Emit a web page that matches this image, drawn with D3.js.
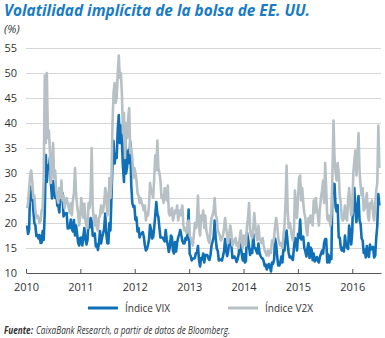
<!DOCTYPE html>
<html>
<head>
<meta charset="utf-8">
<script src="https://cdn.jsdelivr.net/npm/d3@7"></script>
<style>
  html, body { margin: 0; padding: 0; background: #fff; }
  svg { display: block; font-family: "Open Sans", "Noto Sans", sans-serif; }
</style>
</head>
<body>
<svg id="chart" width="385" height="338"></svg>
<script>
// Weekly closes (Fridays), starting the first week of January 2010.
const firstWeek = "2010-01-08";

// Índice VIX (S&P 500 implied volatility), one row per quarter
const vix = [
  19.5, 17.8, 18.6, 27.3, 24.6, 26.1, 22.7, 20.0, 19.5, 17.4, 17.6, 16.9, 17.6,
  16.0, 16.1, 18.4, 16.6, 22.0, 33.6, 28.2, 31.5, 30.8, 33.2, 27.6, 24.9, 28.4,
  26.5, 25.0, 26.3, 23.5, 23.4, 22.1, 26.2, 24.5, 26.0, 21.3, 22.0, 21.7, 22.0,
  18.9, 19.0, 19.1, 20.7, 18.8, 18.3, 20.6, 17.5, 19.5, 17.9, 16.1, 15.5, 17.0,
  // 2011
  17.1, 15.5, 17.3, 19.0, 16.8, 15.7, 16.6, 20.7, 19.1, 21.0, 20.6, 17.5, 17.4,
  17.9, 15.3, 15.7, 14.6, 16.0, 18.4, 15.9, 17.1, 17.9, 18.9, 21.9, 18.0, 16.0,
  15.9, 20.0, 18.5, 25.3, 32.0, 36.4, 31.9, 33.8, 33.0, 38.5, 41.6, 36.0, 39.5,
  36.2, 31.3, 28.2, 38.0, 29.9, 31.2, 34.5, 32.0, 36.3, 27.5, 24.0, 23.2, 23.4,
  // 2012
  20.6, 21.1, 18.3, 19.0, 17.1, 17.8, 17.9, 18.2, 17.3, 15.6, 14.5, 14.8, 15.5,
  16.7, 19.6, 18.6, 16.9, 17.2, 19.1, 21.5, 24.2, 21.8, 21.2, 19.0, 17.1, 17.1,
  17.1, 16.7, 16.3, 18.6, 16.7, 15.6, 14.2, 15.2, 17.5, 17.2, 14.5, 13.9, 16.2,
  14.3, 16.1, 17.1, 17.8, 18.6, 17.6, 16.4, 15.9, 15.9, 17.0, 16.6, 17.8, 22.7,
  // 2013
  13.8, 13.4, 12.5, 12.9, 12.9, 13.0, 14.0, 14.0, 15.4, 12.6, 11.3, 13.0, 12.7,
  13.9, 12.1, 13.6, 13.6, 13.6, 12.9, 12.6, 13.6, 15.5, 16.3, 17.2, 20.5, 16.9,
  14.9, 14.4, 12.5, 12.7, 12.7, 12.5, 13.4, 14.4, 16.8, 14.5, 13.4, 14.4, 16.6,
  16.7, 15.7, 13.0, 13.1, 13.3, 12.9, 12.2, 12.8, 13.7, 16.0, 15.5, 13.8, 12.5,
  // 2014
  13.8, 12.1, 12.4, 18.1, 17.0, 15.3, 13.6, 14.7, 14.0, 17.8, 15.0, 15.0, 14.4,
  13.9, 15.9, 14.0, 13.4, 13.0, 12.9, 12.4, 11.4, 11.7, 10.7, 11.3, 11.8, 11.3,
  10.3, 12.1, 11.8, 12.7, 16.9, 15.8, 13.2, 11.5, 11.5, 12.1, 13.3, 12.1, 14.9,
  14.5, 17.0, 18.5, 16.1, 14.0, 13.1, 13.3, 12.9, 12.6, 14.9, 17.0, 16.5, 14.5,
  // 2015
  17.8, 17.0, 20.7, 16.7, 17.0, 17.3, 15.0, 14.3, 13.3, 14.9, 16.0, 13.0, 15.1,
  14.7, 12.6, 13.9, 12.3, 12.7, 13.2, 12.4, 12.1, 13.3, 13.8, 14.5, 13.9, 16.0,
  16.8, 16.8, 12.1, 13.7, 12.1, 13.4, 12.8, 28.0, 26.1, 27.8, 23.2, 22.3, 23.6,
  17.1, 17.1, 15.1, 14.5, 15.1, 14.3, 17.5, 15.5, 15.1, 14.8, 19.5, 18.0, 15.7,
  // 2016 (to early July)
  18.2, 27.0, 27.0, 22.3, 20.2, 23.4, 25.4, 20.5, 19.8, 16.9, 16.5, 14.0, 14.7,
  13.1, 15.4, 13.6, 13.2, 15.7, 14.7, 15.0, 15.2, 13.1, 13.5, 17.0, 19.4, 25.8, 23.5
];

// Índice V2X (Euro Stoxx 50 implied volatility), same weeks
const v2x = [
  23.0, 24.0, 27.0, 29.5, 30.5, 28.5, 25.0, 25.5, 22.5, 21.0, 21.5, 21.0, 20.0,
  20.5, 22.5, 23.0, 29.0, 49.5, 36.0, 50.0, 37.0, 38.5, 34.0, 28.0, 32.0, 36.0,
  29.0, 30.5, 26.5, 25.0, 24.0, 27.0, 25.0, 28.5, 24.5, 25.5, 23.0, 24.5, 25.0,
  24.0, 23.0, 22.0, 24.0, 21.5, 24.5, 26.0, 31.0, 26.0, 23.5, 22.0, 19.5, 21.5,
  // 2011
  25.0, 22.5, 21.0, 23.9, 20.5, 19.5, 19.0, 24.0, 23.0, 26.0, 35.0, 23.5, 20.5,
  19.5, 21.5, 19.0, 18.5, 21.0, 21.5, 23.5, 22.0, 22.5, 24.0, 27.0, 26.0, 21.5,
  22.5, 29.0, 25.0, 28.5, 40.0, 46.0, 48.0, 44.0, 45.0, 50.0, 53.5, 49.0, 50.0,
  46.0, 38.0, 42.0, 33.0, 40.0, 37.0, 41.0, 43.0, 34.0, 35.0, 33.0, 29.0, 31.0,
  // 2012
  30.0, 28.5, 26.0, 25.5, 24.0, 25.0, 24.0, 23.5, 22.5, 23.5, 20.5, 22.0, 21.5,
  23.5, 28.0, 26.5, 26.0, 25.0, 29.0, 33.5, 30.5, 36.5, 31.0, 30.0, 28.5, 25.0,
  25.5, 24.0, 27.0, 25.0, 24.5, 27.5, 22.0, 21.5, 22.5, 23.0, 20.5, 21.5, 22.5,
  22.0, 23.5, 20.5, 22.5, 21.5, 22.5, 23.5, 19.5, 18.5, 19.0, 18.0, 20.0, 20.5,
  // 2013
  17.5, 17.0, 16.5, 15.5, 17.5, 20.0, 19.0, 20.5, 25.5, 19.0, 17.5, 21.5, 20.5,
  22.5, 19.0, 21.5, 18.5, 17.5, 16.5, 16.0, 19.0, 21.0, 21.5, 22.5, 25.0, 21.5,
  21.0, 18.5, 18.0, 17.5, 16.5, 17.0, 17.5, 19.0, 21.0, 19.0, 17.5, 16.0, 18.0,
  19.5, 18.0, 15.5, 16.0, 16.5, 17.0, 15.5, 16.0, 15.0, 17.0, 18.5, 16.5, 15.0,
  // 2014
  17.5, 16.0, 15.5, 19.5, 21.0, 24.0, 18.5, 17.5, 17.0, 19.0, 22.0, 19.5, 17.5,
  16.5, 19.5, 17.0, 16.5, 16.0, 17.0, 15.5, 14.5, 14.0, 13.5, 14.5, 13.5, 14.5,
  14.0, 16.5, 16.0, 17.0, 19.5, 21.0, 19.5, 17.0, 16.0, 15.5, 16.0, 15.0, 17.5,
  19.5, 24.0, 31.5, 23.0, 19.0, 20.0, 19.0, 17.5, 16.5, 18.0, 26.5, 23.0, 21.0,
  // 2015
  25.0, 29.0, 29.5, 24.5, 27.0, 24.0, 22.0, 21.0, 18.5, 17.5, 21.0, 20.0, 21.5,
  21.0, 19.5, 24.5, 22.0, 25.0, 23.0, 21.5, 19.5, 23.0, 25.0, 26.5, 28.5, 24.0,
  32.0, 27.0, 21.0, 20.5, 21.5, 19.5, 22.0, 30.0, 40.5, 33.0, 30.0, 28.5, 32.0,
  30.0, 25.5, 24.0, 21.0, 20.5, 21.0, 23.5, 21.0, 20.5, 24.5, 27.0, 24.0, 21.5,
  // 2016 (to early July)
  22.0, 30.0, 32.5, 34.5, 29.5, 33.0, 38.0, 30.5, 27.5, 25.5, 27.0, 22.5, 23.0,
  24.5, 26.0, 21.5, 20.5, 24.0, 23.0, 24.5, 22.0, 20.5, 23.5, 26.5, 28.0, 39.5, 31.0
];

const yTicks = [10, 15, 20, 25, 30, 35, 40, 45, 50, 55];
const xTickYears = [2010, 2011, 2012, 2013, 2014, 2015, 2016];
const seriesNames = ["Índice VIX", "Índice V2X"];

const colors = { vix: "#0f70b7", v2x: "#b7c0c5", title: "#1a7bc4", text: "#333" };

const svg = d3.select("#chart");
const start = d3.timeParse("%Y-%m-%d")(firstWeek);
const weekDate = i => d3.timeDay.offset(start, 7 * i);

const x = d3.scaleTime()
  .domain([new Date(2010, 0, 1), new Date(2016, 6, 12)])
  .range([26, 381]);
const y = d3.scaleLinear().domain([10, 55]).range([273, 48]);

// Title and unit
svg.append("text")
  .attr("x", 4).attr("y", 16)
  .attr("fill", colors.title)
  .attr("font-size", 15.5).attr("font-weight", 700).attr("font-style", "italic")
  .attr("textLength", 306).attr("lengthAdjust", "spacingAndGlyphs")
  .text("Volatilidad implícita de la bolsa de EE. UU.");
svg.append("text")
  .attr("x", 4).attr("y", 33)
  .attr("fill", colors.text).attr("font-size", 11.5).attr("font-style", "italic")
  .text("(%)");

// Horizontal gridlines
svg.append("g").selectAll("line")
  .data(yTicks.filter(v => v > 10))
  .join("line")
  .attr("x1", x.range()[0]).attr("x2", x.range()[1])
  .attr("y1", d => y(d)).attr("y2", d => y(d))
  .attr("stroke", "#d6d6d6").attr("stroke-width", 1)
  .attr("shape-rendering", "crispEdges");

// Y axis labels
const yAxis = svg.append("g")
  .attr("transform", `translate(${x.range()[0]},0)`)
  .call(d3.axisLeft(y).tickValues(yTicks).tickSize(0).tickPadding(9));
yAxis.select(".domain").remove();
yAxis.selectAll("text").attr("fill", colors.text).attr("font-size", 11)
  .attr("font-family", "\"Open Sans\", sans-serif");

// Series: VIX first, V2X drawn over it
const line = d3.line()
  .x((d, i) => x(weekDate(i)))
  .y(d => y(d));

svg.append("path")
  .datum(vix)
  .attr("d", line)
  .attr("fill", "none").attr("stroke", colors.vix)
  .attr("stroke-width", 2.6).attr("stroke-linejoin", "round");

svg.append("path")
  .datum(v2x)
  .attr("d", line)
  .attr("fill", "none").attr("stroke", colors.v2x)
  .attr("stroke-width", 2.6).attr("stroke-linejoin", "round");

// X axis along the 10 level, ticks pointing up
const xAxis = svg.append("g")
  .attr("transform", `translate(0,${y(10)})`)
  .call(d3.axisBottom(x)
    .tickValues(xTickYears.map(yr => new Date(yr, 0, 1)))
    .tickFormat(d3.timeFormat("%Y"))
    .tickSizeInner(-4).tickSizeOuter(0).tickPadding(10));
xAxis.select(".domain").attr("stroke", "#555");
xAxis.selectAll(".tick line").attr("stroke", "#555");
xAxis.selectAll("text").attr("fill", colors.text).attr("font-size", 11)
  .attr("font-family", "\"Open Sans\", sans-serif");

// Legend
const legend = [
  { name: seriesNames[0], color: colors.vix, x1: 88, x2: 118, tx: 125 },
  { name: seriesNames[1], color: colors.v2x, x1: 228, x2: 258, tx: 265 }
];
const lg = svg.append("g");
lg.selectAll("line").data(legend).join("line")
  .attr("x1", d => d.x1).attr("x2", d => d.x2)
  .attr("y1", 308).attr("y2", 308)
  .attr("stroke", d => d.color).attr("stroke-width", 3);
lg.selectAll("text").data(legend).join("text")
  .attr("x", d => d.tx).attr("y", 312)
  .attr("fill", colors.text).attr("font-size", 10)
  .text(d => d.name);

// Source note: bold label followed by the italic credit
svg.append("text")
  .attr("x", 4).attr("y", 334)
  .attr("fill", colors.text).attr("font-size", 10)
  .attr("font-style", "italic").attr("font-weight", 700)
  .attr("textLength", 29).attr("lengthAdjust", "spacingAndGlyphs")
  .text("Fuente:");
svg.append("text")
  .attr("x", 36).attr("y", 334)
  .attr("fill", colors.text).attr("font-size", 10).attr("font-style", "italic")
  .attr("textLength", 194).attr("lengthAdjust", "spacingAndGlyphs")
  .text("CaixaBank Research, a partir de datos de Bloomberg.");
</script>
</body>
</html>
